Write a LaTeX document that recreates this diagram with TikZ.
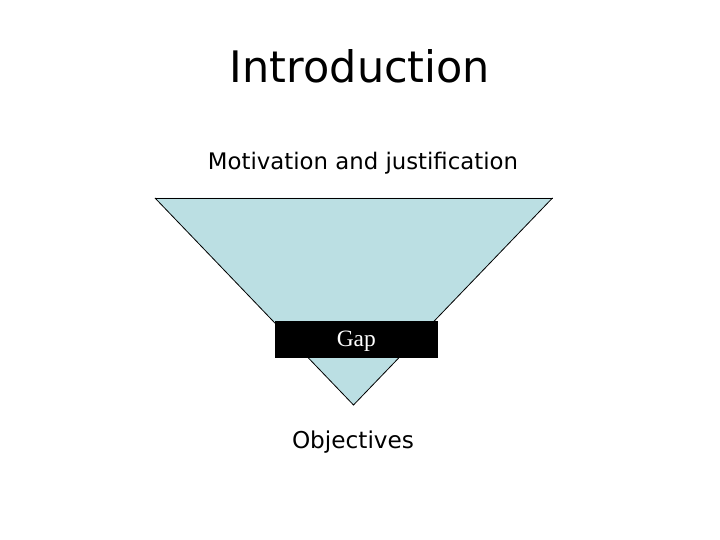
\documentclass[tikz,border=0pt]{standalone}
\usepackage{fontspec}
\setmainfont{DejaVu Sans}
\newfontfamily\gapfont{Liberation Serif}
\definecolor{funnel}{HTML}{BBDFE3}
\tikzset{
  label text/.style={inner sep=0pt, anchor=base, text=black},
  edge line/.style={draw=black, line width=0.8pt}
}
\begin{document}
\begin{tikzpicture}[x=1pt,y=1pt]
\useasboundingbox (0,0) rectangle (720,540);
\fill[white] (0,0) rectangle (720,540);
% funnel
\coordinate (tl) at (155,342);
\coordinate (tr) at (552.5,342);
\coordinate (ap) at (353.5,135);
\fill[funnel] (tl) -- (tr) -- (ap) -- cycle;
\draw[edge line] (tl) -- (tr);
\draw[edge line] (tl) -- (ap) -- (tr);
% gap box
\node[fill=black, minimum width=162.5pt, minimum height=37pt, inner sep=0pt] (gap) at (356.3,200.5) {};
\node[inner sep=0pt, anchor=base, text=white, font=\gapfont\fontsize{23}{23}\selectfont] (gaptext) at (356.3,193.5) {\resizebox{!}{15.5pt}{Gap\vphantom{G}}};
% texts
\node[label text] (title) at (360,457) {\resizebox{260pt}{33pt}{Introduction}};
\node[label text] (motiv) at (363,370) {\resizebox{310pt}{!}{Motivation and justification}};
\node[label text] (obj) at (353,91) {\resizebox{122pt}{!}{Objectives}};
\end{tikzpicture}
\end{document}
